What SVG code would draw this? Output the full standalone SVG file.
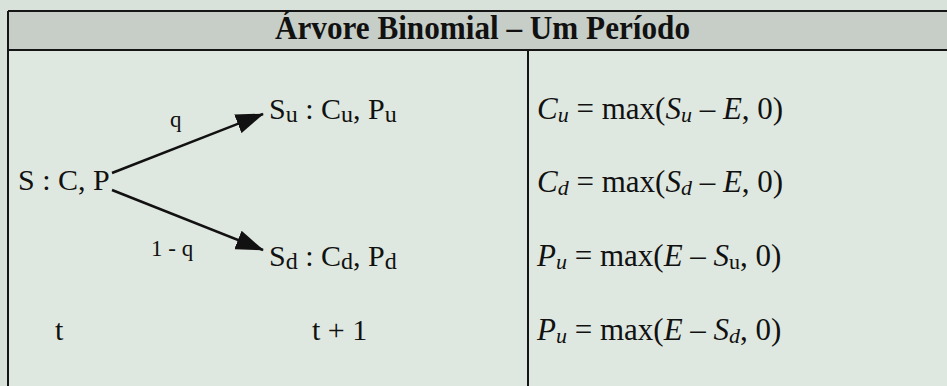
<svg xmlns="http://www.w3.org/2000/svg" width="947" height="386" viewBox="0 0 947 386">
<defs>
<style>
.t{font-family:"Liberation Serif","Times New Roman",serif;fill:#111;}
.b{font-size:30px;}
.f{font-size:31px;}
.s{font-size:23px;}
.i{font-style:italic;}
.ln{stroke:#151515;stroke-width:2;fill:none;}
.ar{stroke:#111;stroke-width:2.5;fill:none;}
</style>
<marker id="ah" viewBox="0 0 28 20" refX="27" refY="10" markerWidth="28" markerHeight="20" markerUnits="userSpaceOnUse" orient="auto">
<path d="M0,0 L28,10 L0,20 Z" fill="#111"/>
</marker>
</defs>
<rect x="0" y="0" width="947" height="386" fill="#d9e2da"/>
<g id="table">
<rect x="8" y="11" width="960" height="39" fill="#c6cec7"/>
<rect x="8" y="50" width="960" height="350" fill="#dfe8e0"/>
<path class="ln" d="M8,11 H960 M8,50 H960 M8,11 V400 M528,50 V400"/>
</g>
<g id="title"><text class="t" x="275" y="39" font-size="34" font-weight="bold" textLength="415" lengthAdjust="spacingAndGlyphs">Árvore Binomial – Um Período</text></g>
<g id="connectors">
<line class="ar" x1="112" y1="173" x2="263" y2="114" marker-end="url(#ah)"/>
<line class="ar" x1="112" y1="190" x2="263" y2="250" marker-end="url(#ah)"/>
<text class="t s" x="170" y="127">q</text>
<text class="t s" x="151" y="256">1 - q</text>
</g>
<g id="node-root"><text class="t b" x="18" y="190">S : C, P</text></g>
<g id="node-up"><text class="t b" x="269" y="119">S<tspan font-size="24" dy="3">u</tspan><tspan dy="-3"> : C</tspan><tspan font-size="24" dy="3">u</tspan><tspan dy="-3">, P</tspan><tspan font-size="24" dy="3">u</tspan></text></g>
<g id="node-down"><text class="t b" x="269" y="266">S<tspan font-size="24" dy="3">d</tspan><tspan dy="-3"> : C</tspan><tspan font-size="24" dy="3">d</tspan><tspan dy="-3">, P</tspan><tspan font-size="24" dy="3">d</tspan></text></g>
<g id="time-t"><text class="t b" x="55" y="340">t</text></g>
<g id="time-t1"><text class="t b" x="312" y="340">t + 1</text></g>
<g id="formulas">
<text class="t f" x="537" y="119"><tspan class="i">C</tspan><tspan class="i" font-size="22" dy="3">u</tspan><tspan dy="-3"> = max(</tspan><tspan class="i">S</tspan><tspan class="i" font-size="22" dy="3">u</tspan><tspan dy="-3"> – </tspan><tspan class="i">E</tspan><tspan>, 0)</tspan></text>
<text class="t f" x="537" y="192"><tspan class="i">C</tspan><tspan class="i" font-size="22" dy="3">d</tspan><tspan dy="-3"> = max(</tspan><tspan class="i">S</tspan><tspan class="i" font-size="22" dy="3">d</tspan><tspan dy="-3"> – </tspan><tspan class="i">E</tspan><tspan>, 0)</tspan></text>
<text class="t f" x="537" y="266"><tspan class="i">P</tspan><tspan class="i" font-size="22" dy="3">u</tspan><tspan dy="-3"> = max(</tspan><tspan class="i">E</tspan><tspan> – </tspan><tspan class="i">S</tspan><tspan font-size="22" dy="3">u</tspan><tspan dy="-3">, 0)</tspan></text>
<text class="t f" x="537" y="340"><tspan class="i">P</tspan><tspan class="i" font-size="22" dy="3">u</tspan><tspan dy="-3"> = max(</tspan><tspan class="i">E</tspan><tspan> – </tspan><tspan class="i">S</tspan><tspan class="i" font-size="22" dy="3">d</tspan><tspan dy="-3">, 0)</tspan></text>
</g>
</svg>
